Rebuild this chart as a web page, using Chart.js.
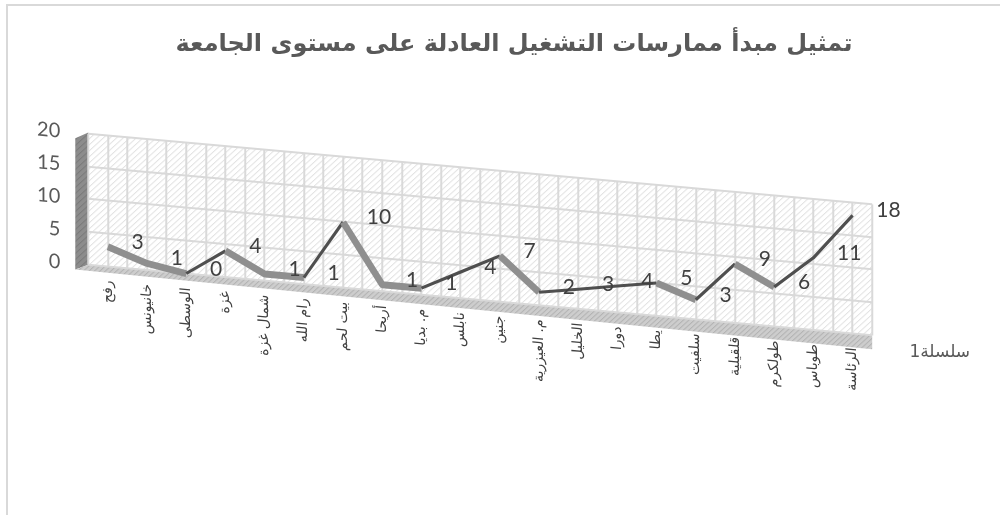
<!DOCTYPE html>
<html>
<head>
<meta charset="utf-8">
<script src="https://cdn.jsdelivr.net/npm/chart.js@4"></script>
<style>
  body { margin: 0; background: #fff; }
  #frame { position: absolute; left: 6px; top: 4px; width: 1000px; height: 520px;
           border-left: 2px solid #d9d9d9; border-top: 2px solid #d9d9d9; }
  #chart { position: absolute; left: 0; top: 0; }
</style>
</head>
<body>
<div id="frame"></div>
<canvas id="chart" width="1000" height="515"></canvas>
<script>
var chartTitle = 'تمثيل مبدأ ممارسات التشغيل العادلة على مستوى الجامعة';
var seriesName = 'سلسلة1';
var categories = ['رفح', 'خانيونس', 'الوسطى', 'غزة', 'شمال غزة', 'رام الله', 'بيت لحم', 'أريحا',
  'م. بديا', 'نابلس', 'جنين', 'م. العيزرية', 'الخليل', 'دورا', 'يطا', 'سلفيت', 'قلقيلية',
  'طولكرم', 'طوباس', 'الرئاسة'];
var seriesValues = [3, 1, 0, 4, 1, 1, 10, 1, 1, 4, 7, 2, 3, 4, 5, 3, 9, 6, 11, 18];
var yTicks = [0, 5, 10, 15, 20];

// fake 3d: vertical skew of the plot, y' = y + K * (x - left)
var K = 0.09;
var arabicFont = "'DejaVu Sans', sans-serif";
var numFont = "Lato, 'Open Sans', sans-serif";

function hatch(bg, fg, size) {
  var c = document.createElement('canvas');
  c.width = c.height = size;
  var g = c.getContext('2d');
  g.fillStyle = bg;
  g.fillRect(0, 0, size, size);
  g.strokeStyle = fg;
  g.lineWidth = 1;
  g.beginPath();
  g.moveTo(0, size); g.lineTo(size, 0);
  g.moveTo(-1, 1); g.lineTo(1, -1);
  g.moveTo(size - 1, size + 1); g.lineTo(size + 1, size - 1);
  g.stroke();
  return g.createPattern(c, 'repeat');
}

function skew(chart) {
  var x0 = chart.chartArea.left;
  chart.ctx.transform(1, K, 0, 1, -K * x0, 0);
}

var fake3d = {
  id: 'fake3d',
  beforeLayout: function(chart) {
    Object.keys(chart.scales).forEach(function(id) {
      var s = chart.scales[id];
      if (s._skewed) return;
      var orig = s.draw;
      s.draw = function(area) {
        chart.ctx.save();
        skew(chart);
        orig.call(s, area);
        chart.ctx.restore();
      };
      s._skewed = true;
    });
  },
  afterLayout: function(chart) {
    // legend level with the front of the floor, title a bit right like the original
    var lg = chart.legend;
    var h = lg.bottom - lg.top;
    lg.top = 353 - h / 2;
    lg.bottom = lg.top + h;
    lg.left += 12;
    lg.right += 12;
    chart.titleBlock.left += 30;
    chart.titleBlock.right += 30;
  },
  beforeDraw: function(chart) {
    var ctx = chart.ctx, a = chart.chartArea;
    ctx.save();
    skew(chart);
    // back wall
    ctx.fillStyle = hatch('#ffffff', '#d8d8d8', 6);
    ctx.fillRect(a.left, a.top, a.right - a.left, a.bottom - a.top);
    // side wall
    ctx.fillStyle = hatch('#8c8c8c', '#737373', 6);
    ctx.beginPath();
    ctx.moveTo(a.left, a.top - 1);
    ctx.lineTo(a.left - 13, a.top + 6);
    ctx.lineTo(a.left - 13, a.bottom + 6);
    ctx.lineTo(a.left, a.bottom);
    ctx.closePath();
    ctx.fill();
    // floor
    ctx.fillStyle = hatch('#cdcdcd', '#a9a9a9', 5);
    ctx.beginPath();
    ctx.moveTo(a.left, a.bottom);
    ctx.lineTo(a.right, a.bottom);
    ctx.lineTo(a.right, a.bottom + 14);
    ctx.lineTo(a.left - 13, a.bottom + 6);
    ctx.closePath();
    ctx.fill();
    ctx.restore();
  },
  beforeDatasetsDraw: function(chart) {
    chart.ctx.save();
    skew(chart);
  },
  afterDatasetsDraw: function(chart) {
    var ctx = chart.ctx;
    ctx.restore();
    var x0 = chart.chartArea.left;
    var meta = chart.getDatasetMeta(0);
    ctx.save();
    ctx.fillStyle = '#404040';
    ctx.font = '21px ' + numFont;
    ctx.textAlign = 'left';
    ctx.textBaseline = 'middle';
    meta.data.forEach(function(pt, i) {
      var y = pt.y + K * (pt.x - x0);
      ctx.fillText(String(seriesValues[i]), pt.x + 15, y + 4);
    });
    ctx.restore();
  }
};

new Chart(document.getElementById('chart'), {
  type: 'line',
  data: {
    labels: categories,
    datasets: [{
      label: seriesName,
      data: seriesValues,
      borderColor: '#8f8f8f',
      borderWidth: 7,
      borderJoinStyle: 'round',
      pointRadius: 0,
      tension: 0,
      clip: false,
      segment: {
        borderColor: function(c) { return c.p1.parsed.y > c.p0.parsed.y ? '#4f4f4f' : '#8f8f8f'; },
        borderWidth: function(c) { return c.p1.parsed.y > c.p0.parsed.y ? 3 : 7; }
      }
    }]
  },
  options: {
    responsive: false,
    animation: false,
    layout: { padding: { left: 0, right: 32, top: 0, bottom: 0 } },
    plugins: {
      title: {
        display: true,
        text: chartTitle,
        color: '#595959',
        font: { family: arabicFont, size: 24, weight: 'bold' },
        padding: { top: 30, bottom: 66 }
      },
      legend: {
        position: 'right',
        labels: {
          boxWidth: 0,
          boxHeight: 0,
          padding: 8,
          color: '#595959',
          font: { family: arabicFont, size: 17 },
          generateLabels: function(chart) {
            return [{ text: seriesName, fillStyle: 'rgba(0,0,0,0)', strokeStyle: 'rgba(0,0,0,0)',
                      lineWidth: 0, hidden: false, datasetIndex: 0, fontColor: '#595959' }];
          }
        }
      },
      tooltip: { enabled: false }
    },
    scales: {
      x: {
        type: 'category',
        offset: true,
        grid: { display: false },
        border: { display: false },
        ticks: {
          color: '#404040',
          font: { family: arabicFont, size: 14 },
          minRotation: 90,
          maxRotation: 90,
          autoSkip: false,
          padding: 6
        },
        afterFit: function(s) { s.height = 259; }
      },
      x2: {
        type: 'linear',
        position: 'top',
        min: 0,
        max: categories.length,
        grid: { color: '#d9d9d9', lineWidth: 2, drawTicks: false },
        border: { display: false },
        ticks: { display: false, stepSize: 0.5 },
        afterFit: function(s) { s.height = 0; }
      },
      y: {
        min: 0,
        max: 20,
        grid: { color: '#d9d9d9', lineWidth: 2, drawTicks: false },
        border: { display: false },
        ticks: {
          color: '#595959',
          font: { family: numFont, size: 20 },
          padding: 28,
          stepSize: 5,
          callback: function(v) { return yTicks.indexOf(v) >= 0 ? String(v) : ''; }
        },
        afterFit: function(s) { s.width = 97; }
      }
    }
  },
  plugins: [fake3d]
});
</script>
</body>
</html>
